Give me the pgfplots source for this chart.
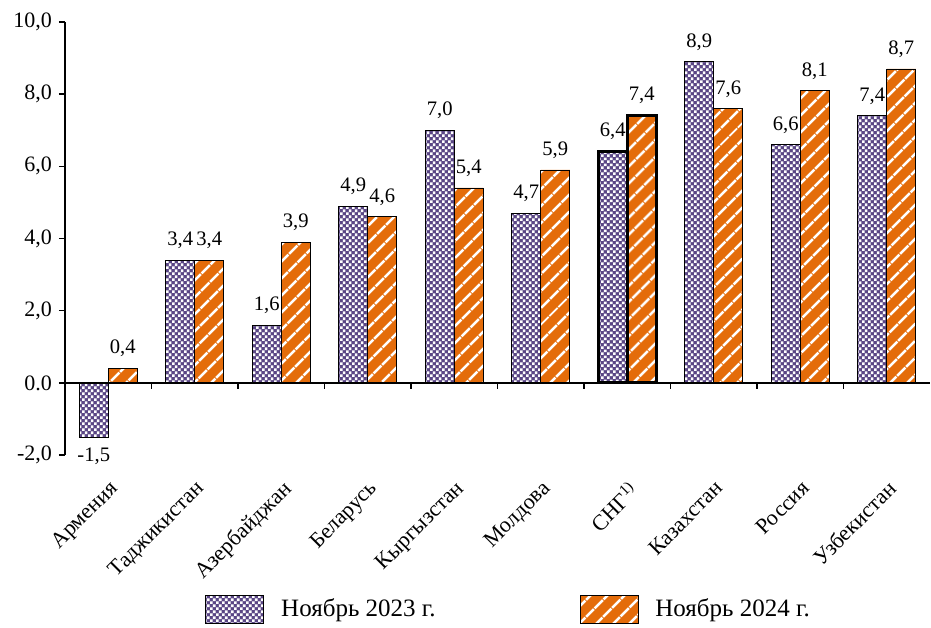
\documentclass[border=0pt]{standalone}
\usepackage{fontspec}
\setmainfont{Liberation Serif}
\usepackage{pgfplots}
\pgfplotsset{compat=1.18}
\usetikzlibrary{patterns,patterns.meta}
\definecolor{cpurple}{HTML}{5A4685}
\definecolor{corange}{HTML}{E46C0A}
\pgfdeclarepatternformonly{smallchecker}{\pgfpointorigin}{\pgfqpoint{3.2pt}{3.2pt}}{\pgfqpoint{3.2pt}{3.2pt}}{%
  \pgfpathrectangle{\pgfpointorigin}{\pgfqpoint{1.4pt}{1.4pt}}%
  \pgfpathrectangle{\pgfqpoint{1.6pt}{1.6pt}}{\pgfqpoint{1.4pt}{1.4pt}}%
  \pgfusepath{fill}}
\tikzset{
  purplebar/.style={draw=black, fill=cpurple, postaction={pattern=smallchecker, pattern color=white}},
  orangebar/.style={draw=black, fill=corange, postaction={pattern={Lines[angle=45,distance=6.5pt,line width=1.5pt]}, pattern color=white}},
}
\begin{document}
\begin{tikzpicture}
\begin{axis}[name=ax,
  scale only axis, width=432.5pt, height=216.5pt,
  xmin=-0.5, xmax=9.5, ymin=-2, ymax=10,
  axis lines*=left, axis line style={-, line width=0.8pt},
  x axis line style={draw=none},
  ybar, bar width=14.5pt,
  legend image code/.code={\draw[#1] (0pt,-7pt) rectangle (29pt,7pt); \path (35.5pt,0pt);},
  xtick={0,1,2,3,4,5,6,7,8,9},
  xticklabels={Армения,Таджикистан,Азербайджан,Беларусь,Кыргызстан,Молдова,СНГ\textsuperscript{1)},Казахстан,Россия,Узбекистан},
  x tick style={draw=none},
  xticklabel style={rotate=45, anchor=north east, xshift=-3pt, yshift=-3pt, font=\fontsize{11}{13}\selectfont},
  ytick={-2,0,2,4,6,8,10},
  yticklabels={{-2,0},{0.0},{2,0},{4,0},{6,0},{8,0},{10,0}},
  yticklabel style={font=\fontsize{11}{13}\selectfont},
  tick align=outside, major tick length=3pt,
  y tick style={black, line width=0.8pt},
  nodes near coords,
  nodes near coords style={font=\fontsize{10.3}{12.5}\selectfont, inner ysep=5.5pt, /pgf/number format/.cd, fixed, fixed zerofill, precision=1, use comma, assume math mode=true},
  legend columns=2,
  legend style={draw=none, at={(0.514,-0.356)}, anchor=center, font=\fontsize{12.5}{15}\selectfont,
    /tikz/every even column/.append style={column sep=70pt}},
  legend cell align=left,
]
\addplot[purplebar, bar shift=-7.25pt] coordinates {(0,-1.5) (1,3.4) (2,1.6) (3,4.9) (4,7.0) (5,4.7) (7,8.9) (8,6.6) (9,7.4)};
\addlegendentry{Ноябрь 2023 г.}
\addplot[orangebar, bar shift=7.25pt] coordinates {(0,0.4) (1,3.4) (2,3.9) (3,4.6) (4,5.4) (5,5.9) (7,7.6) (8,8.1) (9,8.7)};
\addlegendentry{Ноябрь 2024 г.}
\addplot[purplebar, bar shift=-7.25pt, line width=1.5pt, forget plot] coordinates {(6,6.4)};
\addplot[orangebar, bar shift=7.25pt, line width=1.5pt, forget plot] coordinates {(6,7.4)};
\draw[line width=0.8pt] (axis cs:-0.5,0) -- (axis cs:9.5,0);
\pgfplotsinvokeforeach{0.5,1.5,2.5,3.5,4.5,5.5,6.5,7.5,8.5}{\draw[line width=0.8pt] (axis cs:#1,0) -- ([yshift=-3pt]axis cs:#1,0);}
\end{axis}
\path ([shift={(-32.5pt,-84.5pt)}]ax.south west) rectangle ([shift={(433pt,227.5pt)}]ax.south west);
\end{tikzpicture}
\end{document}
